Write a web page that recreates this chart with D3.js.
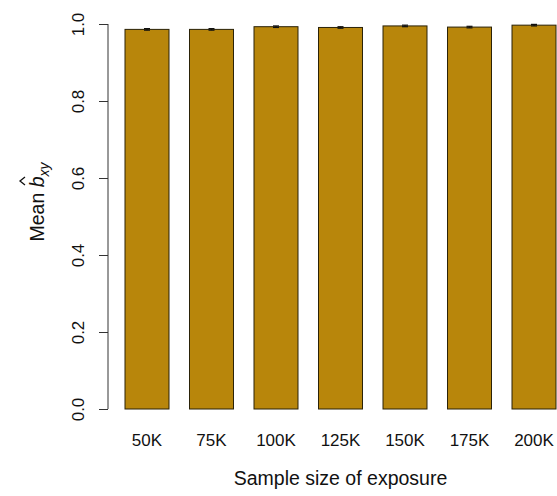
<!DOCTYPE html>
<html>
<head>
<meta charset="utf-8">
<script src="https://cdn.jsdelivr.net/npm/d3@7"></script>
<style>
  html, body { margin: 0; padding: 0; background: #fff; }
  svg { display: block; font-family: "Liberation Sans", Arial, Helvetica, sans-serif; }
</style>
</head>
<body>
<div id="chart"></div>
<script>
// Sample sizes and mean estimates
const sampleSizes = ["50K", "75K", "100K", "125K", "150K", "175K", "200K"];
const meanBxy = [0.986, 0.986, 0.993, 0.991, 0.995, 0.992, 0.997];
const seBxy = [0.002, 0.002, 0.002, 0.002, 0.002, 0.002, 0.002];
const yTicks = [0, 0.2, 0.4, 0.6, 0.8, 1.0];

const width = 557, height = 496;
const barColor = "#B8860B";

const svg = d3.select("#chart").append("svg")
    .attr("width", width)
    .attr("height", height);

const x = d3.scaleBand()
    .domain(sampleSizes)
    .range([125, 556])
    .paddingInner(0.318)
    .paddingOuter(0);

const y = d3.scaleLinear()
    .domain([0, 1])
    .range([409, 24]);

// Bars
svg.selectAll(".bar")
    .data(sampleSizes)
    .enter().append("rect")
    .attr("class", "bar")
    .attr("x", d => x(d))
    .attr("y", (d, i) => y(meanBxy[i]))
    .attr("width", x.bandwidth())
    .attr("height", (d, i) => y(0) - y(meanBxy[i]))
    .attr("fill", barColor)
    .attr("stroke", "#2a2208")
    .attr("stroke-width", 1);

// Error bars
const eb = svg.append("g").attr("stroke", "#111").attr("stroke-width", 1.2);
sampleSizes.forEach((s, i) => {
    const cx = x(s) + x.bandwidth() / 2;
    eb.append("line")
        .attr("x1", cx).attr("x2", cx)
        .attr("y1", y(meanBxy[i] - seBxy[i])).attr("y2", y(meanBxy[i] + seBxy[i]));
    [meanBxy[i] - seBxy[i], meanBxy[i] + seBxy[i]].forEach(v => {
        eb.append("line")
            .attr("x1", cx - 3).attr("x2", cx + 3)
            .attr("y1", y(v)).attr("y2", y(v));
    });
});

// Y axis
const yAxis = d3.axisLeft(y)
    .tickValues(yTicks)
    .tickSize(9)
    .tickPadding(0)
    .tickFormat(d3.format(".1f"));

const gy = svg.append("g")
    .attr("transform", "translate(108,0)")
    .call(yAxis);
gy.select(".domain").attr("stroke", "#333").attr("d", `M0,${y(0)}V${y(1)}`);
gy.selectAll(".tick line").attr("stroke", "#333");
gy.selectAll(".tick text")
    .attr("font-size", 17)
    .attr("fill", "#111")
    .attr("text-anchor", "middle")
    .attr("x", 0)
    .attr("dy", 0)
    .attr("transform", "translate(-24,0) rotate(-90)");

// X labels (no axis line, as in R barplot names)
svg.append("g").selectAll("text")
    .data(sampleSizes)
    .enter().append("text")
    .attr("x", d => x(d) + x.bandwidth() / 2)
    .attr("y", 446)
    .attr("text-anchor", "middle")
    .attr("font-size", 17)
    .attr("fill", "#111")
    .text(d => d);

// Axis titles
svg.append("text")
    .attr("x", (x.range()[0] + x.range()[1]) / 2)
    .attr("y", 485)
    .attr("text-anchor", "middle")
    .attr("font-size", 19.5)
    .attr("fill", "#111")
    .text("Sample size of exposure");

// y title: Mean b-hat_xy (hat drawn separately above the b)
const ytg = svg.append("g").attr("transform", "translate(44,202) rotate(-90)");
const yt = ytg.append("text")
    .attr("text-anchor", "middle")
    .attr("font-size", 19.5)
    .attr("fill", "#111");
yt.append("tspan").text("Mean ");
yt.append("tspan").attr("font-style", "italic").text("b");
yt.append("tspan").attr("font-size", 14).attr("dy", 5).attr("font-style", "italic").text("xy");

const node = yt.node();
const bStart = node.getStartPositionOfChar(5).x;
const bEnd = node.getEndPositionOfChar(5).x;
const bMid = (bStart + bEnd) / 2 + 1;
ytg.append("path")
    .attr("d", `M${bMid - 4},-19L${bMid},-24L${bMid + 4},-19`)
    .attr("fill", "none")
    .attr("stroke", "#111")
    .attr("stroke-width", 1.3);
</script>
</body>
</html>
